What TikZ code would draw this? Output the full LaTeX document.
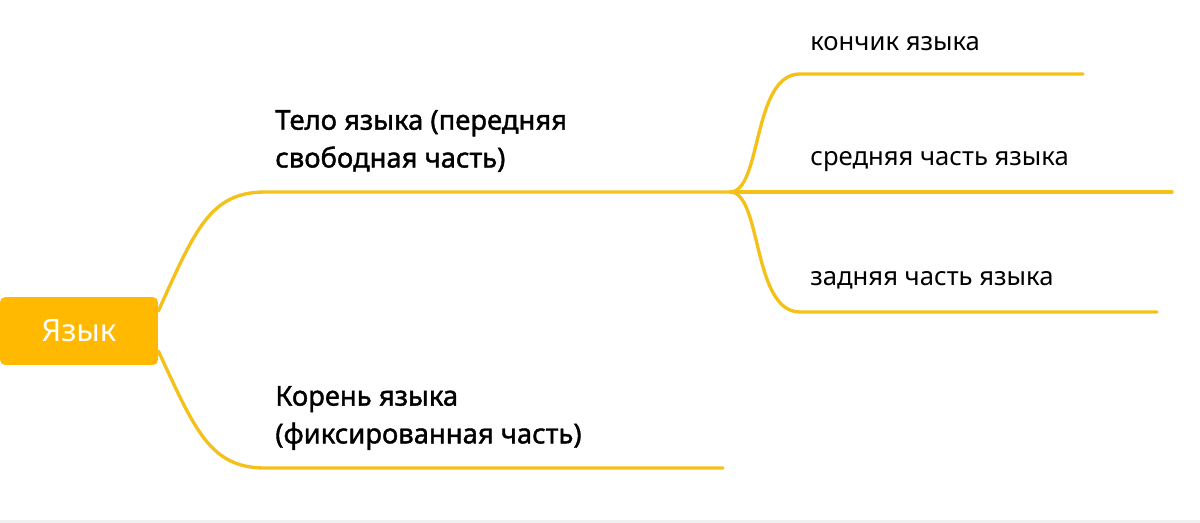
\documentclass[tikz,border=0pt]{standalone}
\usepackage{fontspec}
\setmainfont{Noto Sans}[AutoFakeBold=1.4]
\usetikzlibrary{positioning}
\definecolor{rootyellow}{HTML}{FFB900}
\definecolor{branchyellow}{HTML}{F3C11A}

\begin{document}
\begin{tikzpicture}[x=0.02cm, y=-0.02cm,
    root/.style={rectangle, fill=rootyellow, text=white, rounded corners=3pt, minimum width=3.16cm, minimum height=1.36cm, font=\fontsize{17.6}{20}\selectfont},
    head/.style={anchor=west, align=left, inner sep=0pt, font=\fontsize{15.6}{21.5}\selectfont\bfseries},
    leaf/.style={anchor=west, inner sep=0pt, font=\fontsize{14.6}{17}\selectfont},
    branch/.style={draw=branchyellow, line width=1.9pt, line cap=round}]

    \useasboundingbox (0,0) rectangle (1200,523);
    \fill[gray!12] (0,520) rectangle (1200,523);

    \node [root] (tongue) at (79,331) {Язык};

    % main branches
    \coordinate (bodystart) at (265,192);
    \coordinate (fork) at (730,192);
    \coordinate (rootstart) at (265,468);
    \coordinate (rootend) at (723,468);

    \node [head] (body) at (275,141) {Тело языка (передняя\\свободная часть)};
    \node [head] (base) at (275,418) {Корень языка\\(фиксированная часть)};

    % leaves
    \coordinate (tipstart) at (800,74);
    \coordinate (tipend) at (1083,74);
    \coordinate (midend) at (1172,192);
    \coordinate (backstart) at (800,312);
    \coordinate (backend) at (1157,312);

    \node [leaf] (tip) at (810,44) {кончик языка};
    \node [leaf] (middle) at (810,162) {средняя часть языка};
    \node [leaf] (back) at (810,280) {задняя часть языка};

    \path [branch] (tongue.east) ++(0,-20) .. controls (195,230) and (210,192) .. (bodystart) -- (fork);
    \path [branch] (tongue.east) ++(0,20) .. controls (195,430) and (210,468) .. (rootstart) -- (rootend);

    \path [branch] (fork) .. controls (762,192) and (752,74) .. (tipstart) -- (tipend);
    \path [branch] (fork) -- (midend);
    \path [branch] (fork) .. controls (762,192) and (752,312) .. (backstart) -- (backend);
\end{tikzpicture}
\end{document}
